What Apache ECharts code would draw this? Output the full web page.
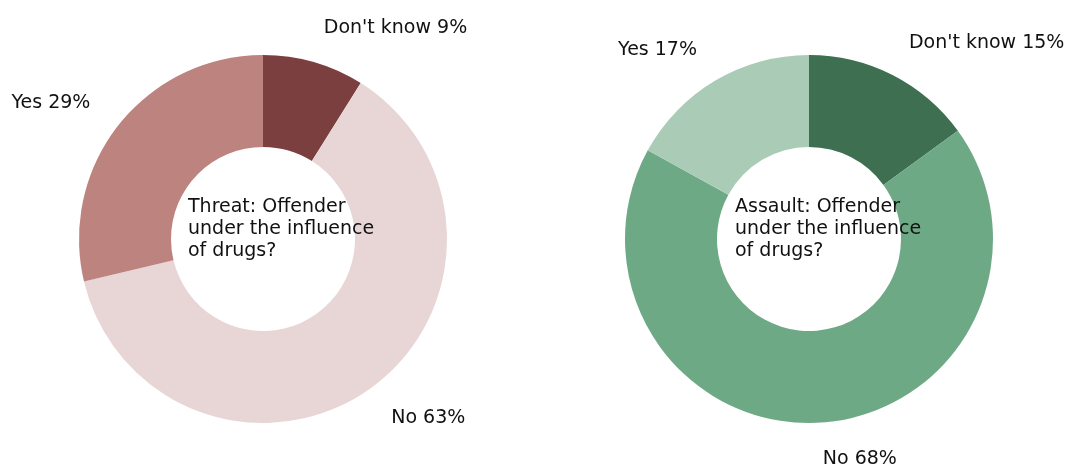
<!DOCTYPE html>
<html>
<head>
<meta charset="utf-8">
<script src="https://cdn.jsdelivr.net/npm/echarts@6/dist/echarts.min.js"></script>
<style>
  html, body { margin: 0; padding: 0; background: #ffffff; }
  #chart { width: 1072px; height: 466px; }
</style>
</head>
<body>
<div id="chart"></div>
<script>
// Share of incidents where the offender was under the influence of drugs
const categories = ["Don't know", "No", "Yes"];
const threatValues = [9, 63, 29];
const assaultValues = [15, 68, 17];
const threatTitle = "Threat: Offender\nunder the influence\nof drugs?";
const assaultTitle = "Assault: Offender\nunder the influence\nof drugs?";
const threatColors = ['#7b3f3f', '#e8d5d6', '#bd837f'];
const assaultColors = ['#3f6f51', '#6ea986', '#aacbb6'];

const FONT = 'DejaVu Sans';
const TEXT_COLOR = '#111111';

function donut(values, colors, cx) {
  return {
    type: 'pie',
    center: [cx, 239],
    radius: [92, 184],
    startAngle: 90,
    clockwise: true,
    avoidLabelOverlap: false,
    silent: true,
    z: 1,
    itemStyle: { borderWidth: 0 },
    label: {
      show: true,
      position: 'outside',
      formatter: p => p.name + ' ' + p.value + '%',
      fontFamily: FONT,
      fontSize: 19,
      color: TEXT_COLOR
    },
    // labels sit just beyond the ring, anchored at the slice's mid angle
    labelLine: { show: false, length: 36, length2: -5 },
    data: categories.map((c, i) => ({
      name: c,
      value: values[i],
      itemStyle: { color: colors[i] }
    }))
  };
}

function centerText(text, x) {
  return {
    type: 'text',
    left: x,
    top: 196,
    z: 100,
    style: {
      text: text,
      fontFamily: FONT,
      fontSize: 19,
      lineHeight: 22,
      fill: TEXT_COLOR,
      textAlign: 'left'
    }
  };
}

const chart = echarts.init(document.getElementById('chart'), null, { renderer: 'canvas' });
chart.setOption({
  animation: false,
  backgroundColor: '#ffffff',
  series: [
    donut(threatValues, threatColors, 263),
    donut(assaultValues, assaultColors, 809)
  ],
  graphic: [
    centerText(threatTitle, 188),
    centerText(assaultTitle, 735)
  ]
});
</script>
</body>
</html>
